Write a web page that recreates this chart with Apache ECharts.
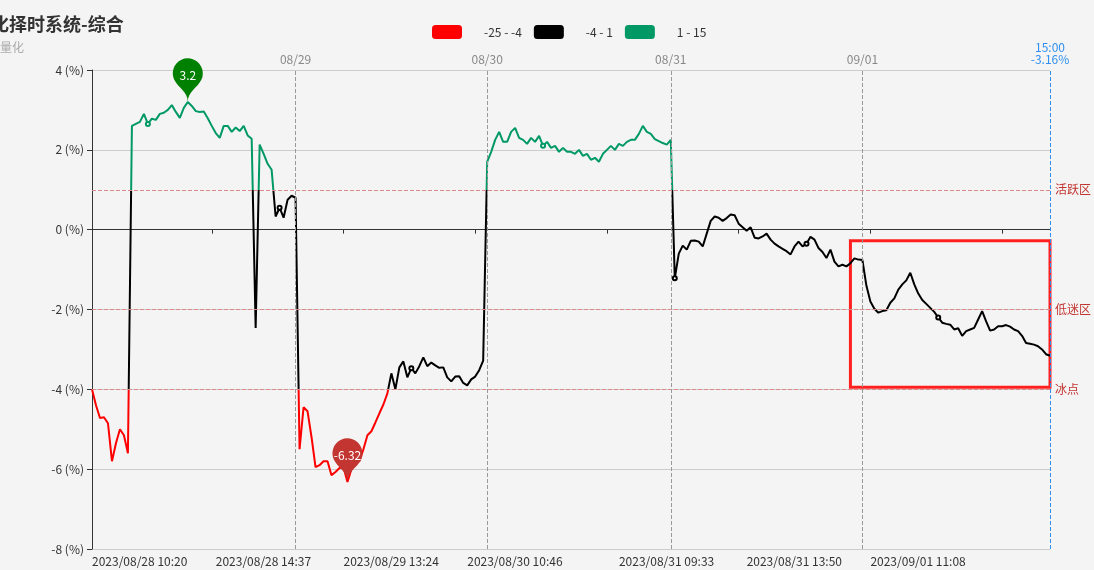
<!DOCTYPE html>
<html>
<head>
<meta charset="utf-8">
<script src="https://cdn.jsdelivr.net/npm/echarts@6/dist/echarts.min.js"></script>
<style>
html,body{margin:0;padding:0;background:#f4f4f4;}
#chart{width:1094px;height:570px;}
</style>
</head>
<body>
<div id="chart"></div>
<script>
// 综合指标 (%), one sample per time step
const values = [
  -4.0, -4.4, -4.72, -4.7, -4.85, -5.8, -5.35, -5.0, -5.15, -5.6,
  2.6, 2.65, 2.7, 2.9, 2.65, 2.78, 2.75, 2.9, 2.93, 3.0,
  3.12, 2.95, 2.8, 3.05, 3.2, 3.1, 2.97, 2.95, 2.96, 2.79,
  2.6, 2.42, 2.3, 2.6, 2.6, 2.45, 2.56, 2.47, 2.6, 2.36,
  2.28, -2.46, 2.13, 1.9, 1.65, 1.5, 0.33, 0.55, 0.3, 0.75,
  0.85, 0.8, -5.5, -4.45, -4.55, -5.2, -5.95, -5.9, -5.8, -5.8,
  -6.15, -6.07, -5.97, -5.95, -6.32, -6.0, -5.8, -5.8, -5.5, -5.15,
  -5.05, -4.83, -4.6, -4.38, -4.1, -3.6, -4.0, -3.45, -3.3, -3.7,
  -3.47, -3.6, -3.42, -3.2, -3.42, -3.33, -3.4, -3.46, -3.45, -3.7,
  -3.8, -3.68, -3.67, -3.84, -3.9, -3.75, -3.68, -3.52, -3.28, 1.7,
  1.95, 2.25, 2.45, 2.2, 2.2, 2.45, 2.55, 2.3, 2.25, 2.15,
  2.3, 2.2, 2.35, 2.1, 2.2, 2.05, 2.1, 1.95, 2.05, 1.95,
  1.95, 1.9, 2.0, 1.85, 1.9, 1.75, 1.8, 1.7, 1.9, 2.0,
  2.1, 2.0, 2.15, 2.1, 2.2, 2.25, 2.25, 2.4, 2.6, 2.45,
  2.4, 2.27, 2.22, 2.17, 2.13, 2.25, -1.22, -0.6, -0.4, -0.5,
  -0.28, -0.27, -0.3, -0.42, -0.1, 0.22, 0.33, 0.3, 0.22, 0.29,
  0.38, 0.36, 0.15, 0.06, -0.03, 0.06, -0.2, -0.22, -0.17, -0.1,
  -0.25, -0.35, -0.42, -0.48, -0.54, -0.62, -0.42, -0.3, -0.42, -0.35,
  -0.18, -0.25, -0.46, -0.56, -0.71, -0.5, -0.8, -0.92, -0.88, -0.92,
  -0.84, -0.72, -0.75, -0.76, -1.4, -1.8, -1.98, -2.08, -2.04, -2.02,
  -1.83, -1.72, -1.5, -1.37, -1.27, -1.08, -1.37, -1.6, -1.76, -1.86,
  -1.96, -2.06, -2.2, -2.33, -2.36, -2.38, -2.5, -2.47, -2.66, -2.54,
  -2.5, -2.46, -2.25, -2.04, -2.3, -2.53, -2.5, -2.42, -2.42, -2.39,
  -2.43, -2.5, -2.54, -2.66, -2.84, -2.86, -2.88, -2.92, -3.0, -3.12,
  -3.16
];

// bottom time labels (sample index -> text)
const timeLabelIdx = [0, 31, 63, 94, 132, 164, 195];
const timeLabels = ['2023/08/28 10:20', '2023/08/28 14:37', '2023/08/29 13:24', '2023/08/30 10:46',
                    '2023/08/31 09:33', '2023/08/31 13:50', '2023/09/01 11:08'];
// day separators on top
const dayIdx = [51, 99, 145, 193];
const dayLabels = ['08/29', '08/30', '08/31', '09/01'];
const lastLabel = '15:00\n-3.16%';
// ticks on zero axis and sampled points with symbols
const zeroTickIdx = [30, 63, 96, 129, 162, 195, 228];
const dotIdx = [14, 47, 80, 113, 146, 179, 212];
// zones
const zoneValues = [1, -2, -4];
const zoneNames = ['活跃区', '低迷区', '冰点'];
// visual pieces
const pieces = [
  {min: -25, max: -4, color: '#ff0000'},
  {min: -4, max: 1, color: '#000000'},
  {min: 1, max: 15, color: '#009966'}
];
// highlighted box (index range, value range)
const boxFrom = [190, -0.28];
const boxTo = [240, -3.95];
const yTicks = {min: -8, max: 4, interval: 2};

const categories = values.map((_, i) => String(i));
const lastIdx = values.length - 1;

const seriesData = values.map((v, i) => dotIdx.includes(i)
  ? {value: v, symbol: 'emptyCircle', symbolSize: 4}
  : v);

let maxI = 0, minI = 0;
values.forEach((v, i) => { if (v > values[maxI]) maxI = i; if (v < values[minI]) minI = i; });

const chart = echarts.init(document.getElementById('chart'), null, {renderer: 'canvas'});
const font = "'Microsoft YaHei','Noto Sans CJK SC',sans-serif";

chart.setOption({
  backgroundColor: '#f4f4f4',
  textStyle: {fontFamily: font},
  title: [
    {text: '量化择时系统-综合', left: -32, top: 10,
     textStyle: {fontSize: 18, fontWeight: 'bold', color: '#333', fontFamily: font}},
    {text: '', subtext: '量化', left: -5, top: 36, itemGap: 0,
     subtextStyle: {fontSize: 12, color: '#aaa', fontFamily: font}}
  ],
  visualMap: {
    type: 'piecewise',
    orient: 'horizontal',
    left: 417, top: 10,
    itemWidth: 30, itemHeight: 14,
    itemGap: 12, textGap: 22,
    seriesIndex: 0,
    pieces: pieces,
    textStyle: {color: '#333', fontSize: 12}
  },
  grid: {left: 92, right: 44, top: 70, bottom: 21},
  xAxis: [
    {
      type: 'category', data: categories, boundaryGap: false,
      axisLine: {onZero: true, lineStyle: {color: '#333', width: 1}},
      axisTick: {show: true, length: 4, interval: (i) => zeroTickIdx.includes(i), lineStyle: {color: '#333'}},
      axisLabel: {show: false},
      splitLine: {show: false}
    },
    {
      type: 'category', data: categories, boundaryGap: false, position: 'bottom',
      axisLine: {show: false, onZero: false},
      axisTick: {show: false},
      axisLabel: {
        show: true, align: 'left', color: '#333', fontSize: 12, margin: 6,
        interval: (i) => timeLabelIdx.includes(i),
        formatter: (v) => { const k = timeLabelIdx.indexOf(Number(v)); return k >= 0 ? timeLabels[k] : ''; }
      },
      splitLine: {show: false}
    }
  ],
  yAxis: {
    type: 'value', min: yTicks.min, max: yTicks.max, interval: yTicks.interval,
    axisLine: {show: true, lineStyle: {color: '#333'}},
    axisTick: {show: true, length: 5, lineStyle: {color: '#333'}},
    axisLabel: {formatter: '{value} (%)', color: '#333', fontSize: 12, margin: 8},
    splitLine: {show: true, lineStyle: {color: '#cccccc', width: 1}}
  },
  series: [{
    type: 'line',
    xAxisIndex: 0,
    data: seriesData,
    symbol: 'none',
    showSymbol: true,
    showAllSymbol: true,
    lineStyle: {width: 2},
    itemStyle: {color: '#000', borderWidth: 1},
    emphasis: {disabled: true},
    markPoint: {
      symbol: 'pin', symbolSize: 50,
      label: {color: '#fff', fontSize: 12},
      data: [
        {coord: [maxI, values[maxI]], value: values[maxI], itemStyle: {color: '#008000'}},
        {coord: [minI, values[minI]], value: values[minI], itemStyle: {color: '#c23531'}}
      ]
    },
    markLine: {
      silent: true,
      symbol: ['none', 'none'],
      animation: false,
      data: [
        ...zoneValues.map((v, k) => ({
          yAxis: v,
          lineStyle: {color: '#da8a88', type: 'dashed', width: 1},
          label: {position: 'end', formatter: zoneNames[k], color: '#c23531', fontSize: 12}
        })),
        ...dayIdx.map((d, k) => ({
          xAxis: d,
          lineStyle: {color: '#999', type: 'dashed', width: 1},
          label: {position: 'end', formatter: dayLabels[k], color: '#888', fontSize: 12}
        })),
        {
          xAxis: lastIdx,
          lineStyle: {color: '#2f8ff0', type: 'dashed', width: 1},
          label: {position: 'end', formatter: lastLabel, color: '#2f8ff0', fontSize: 12, lineHeight: 12}
        }
      ]
    },
    markArea: {
      silent: true,
      data: [[
        {coord: [boxFrom[0], boxFrom[1]], itemStyle: {color: 'rgba(0,0,0,0)', borderColor: '#ff1f1f', borderWidth: 3}},
        {coord: [boxTo[0], boxTo[1]]}
      ]]
    }
  }]
});
</script>
</body>
</html>
